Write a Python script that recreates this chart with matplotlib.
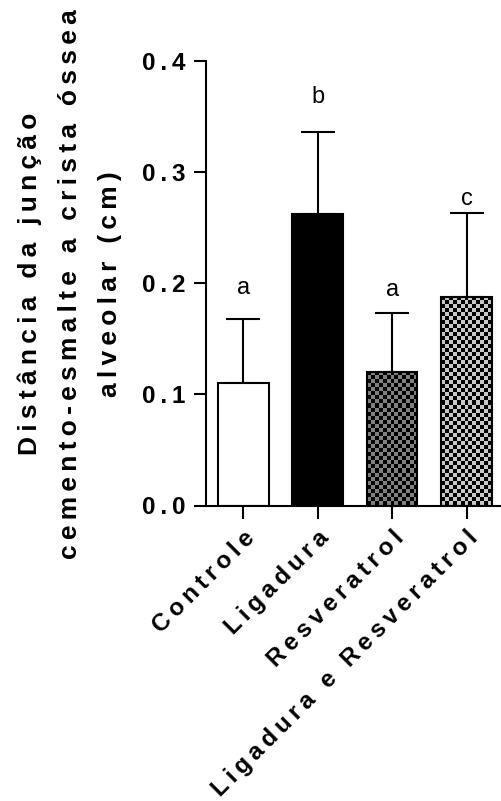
import numpy as np
import matplotlib
matplotlib.use('Agg')
import matplotlib.pyplot as plt

groups = ['Controle', 'Ligadura', 'Resveratrol', 'Ligadura e Resveratrol']
means = [0.110, 0.262, 0.120, 0.188]
errs = [0.058, 0.074, 0.053, 0.075]
letters = ['a', 'b', 'a', 'c']
letter_y = [0.196, 0.368, 0.194, 0.276]
yticks = [0.0, 0.1, 0.2, 0.3, 0.4]
ylabel_lines = ['Distância da junção', 'cemento-esmalte a crista óssea', 'alveolar (cm)']

fam = ['Liberation Sans', 'DejaVu Sans']
plt.rcParams['font.family'] = fam


def spaced(s):
    # fake letter spacing like the GraphPad export
    return '\u2009'.join(s)


fig = plt.figure(figsize=(5.01, 8.01), dpi=100)
ax = fig.add_axes([206 / 501, 1 - 505.5 / 801, (500 - 206) / 501, (505.5 - 61) / 801])

x = np.arange(len(groups))
faces = ['white', 'black', '#808080', '#c8c8c8']
bars = ax.bar(x, means, width=0.68, color=faces, edgecolor='black', linewidth=1.5, zorder=2)
ax.errorbar(x, means, yerr=[np.zeros(len(errs)), errs], fmt='none', ecolor='black',
            elinewidth=1.5, capsize=12, capthick=1.5, zorder=1)

ax.set_xlim(-0.5, 3.45)
ax.set_ylim(0, 0.4)

# checkerboard fill for the two resveratrol groups
fig.canvas.draw()
px = ax.transData.transform([(0, 0), (1, 0.1)])
px_per_x = px[1, 0] - px[0, 0]
px_per_y = (px[1, 1] - px[0, 1]) / 0.1
cell = 4.0
for b, c in zip(bars[2:], ['#808080', '#c8c8c8']):
    w = b.get_width()
    h = b.get_height()
    nc = int(round(w * px_per_x / cell))
    nr = int(round(h * px_per_y / cell))
    chk = (np.add.outer(np.arange(nr), np.arange(nc)) % 2)
    rgb = np.zeros((nr, nc, 3))
    col = np.array(matplotlib.colors.to_rgb(c))
    rgb[chk == 1] = col
    im = ax.imshow(rgb, extent=(b.get_x(), b.get_x() + w, 0, h), aspect='auto',
                   interpolation='nearest', zorder=2.5)
    im.set_clip_path(b)
    b.set_facecolor('none')
    b.set_zorder(3)

for xi, ly, t in zip(x, letter_y, letters):
    ax.text(xi, ly, t, ha='center', va='center', fontsize=17, family=fam)

ax.spines['top'].set_visible(False)
ax.spines['right'].set_visible(False)
ax.spines['left'].set_linewidth(1.5)
ax.spines['bottom'].set_linewidth(1.5)
ax.tick_params(length=9, width=1.5, pad=6)

ax.set_yticks(yticks)
ax.set_yticklabels([spaced(f'{v:.1f}') for v in yticks], fontsize=17.5, fontweight='bold')
ax.set_xticks(x)
ax.set_xticklabels([spaced(g) for g in groups], fontsize=17.5, fontweight='bold',
                   rotation=45, ha='right', va='top', rotation_mode='anchor')

fig.text(70 / 501, 1 - 284 / 801, '\n'.join(spaced(s) for s in ylabel_lines),
         rotation=90, ha='center', va='center', multialignment='center',
         fontsize=19, fontweight='bold', linespacing=1.85)

fig.savefig('out.png', dpi=100)
